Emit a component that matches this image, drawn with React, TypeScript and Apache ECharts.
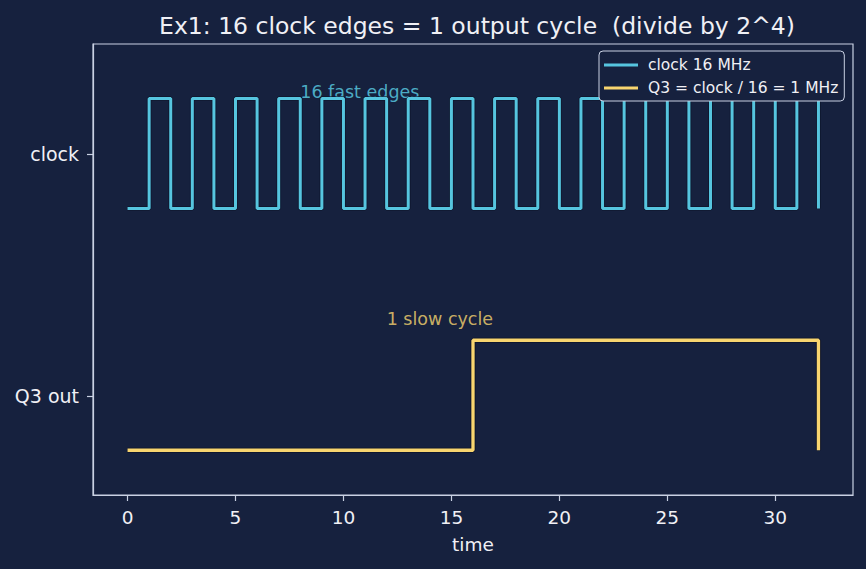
import React, { useEffect, useRef } from "react";
import * as echarts from "echarts";

const clockTimes = [0, 1, 2, 3, 4, 5, 6, 7, 8, 9, 10, 11, 12, 13, 14, 15, 16, 17, 18, 19, 20, 21, 22, 23, 24, 25, 26, 27, 28, 29, 30, 31, 32];
const clockLevels = [0, 1, 0, 1, 0, 1, 0, 1, 0, 1, 0, 1, 0, 1, 0, 1, 0, 1, 0, 1, 0, 1, 0, 1, 0, 1, 0, 1, 0, 1, 0, 1, 0];
const q3Times = [0, 16, 32];
const q3Levels = [0, 1, 0];

const clockLow = 0.775;
const clockHigh = 1.23;
const q3Low = -0.225;
const q3High = 0.23;

const yTickValues = [0, 1];
const yTickLabels = ["Q3 out", "clock"];
const xTickValues = [0, 5, 10, 15, 20, 25, 30];

const clockName = "clock 16 MHz";
const q3Name = "Q3 = clock / 16 = 1 MHz";
const clockNote = { x: 8, y: 1.22, text: "16 fast edges" };
const q3Note = { x: 12, y: 0.28, text: "1 slow cycle" };

const BG = "#16213e";
const CLOCK = "#56c5df";
const Q3 = "#f8d56f";
const FG = "#f0f0f5";
const SPINE = "#c9d1e3";
const FONT = "DejaVu Sans";

export default function App() {
  const ref = useRef<HTMLDivElement>(null);
  useEffect(() => {
    if (!ref.current) return;
    const chart = echarts.init(ref.current, undefined, { renderer: "svg" });
    const clockData = clockTimes.map((t, i) => [t, clockLevels[i] ? clockHigh : clockLow]);
    const q3Data = q3Times.map((t, i) => [t, q3Levels[i] ? q3High : q3Low]);
    chart.setOption({
      animation: false,
      backgroundColor: BG,
      title: {
        text: "Ex1: 16 clock edges = 1 output cycle  (divide by 2^4)",
        left: 472,
        top: 9,
        textAlign: "center",
        textStyle: { color: FG, fontSize: 23.5, fontWeight: "normal", fontFamily: FONT },
      },
      legend: {
        orient: "vertical",
        left: 599,
        top: 51,
        padding: [5, 6, 4, 5],
        itemGap: 5,
        itemWidth: 34,
        itemHeight: 3,
        icon: "rect",
        backgroundColor: BG,
        borderColor: SPINE,
        borderWidth: 1,
        borderRadius: 4,
        data: [clockName, q3Name],
        textStyle: { color: FG, fontSize: 15.5, lineHeight: 18, fontFamily: FONT, padding: [0, 0, 0, 5] },
      },
      grid: {
        left: 93,
        top: 44,
        width: 760,
        height: 451,
        show: true,
        borderColor: SPINE,
        borderWidth: 1.2,
        backgroundColor: BG,
      },
      xAxis: {
        type: "value",
        min: -1.6,
        max: 33.6,
        name: "time",
        nameLocation: "middle",
        nameGap: 40,
        nameTextStyle: { color: FG, fontSize: 18.5, fontFamily: FONT },
        axisLine: { show: true, onZero: false, lineStyle: { color: SPINE, width: 1.2 } },
        axisTick: { show: true, customValues: xTickValues, length: 6, lineStyle: { color: SPINE, width: 1.2 } },
        axisLabel: { customValues: xTickValues, color: FG, fontSize: 18.5, fontFamily: FONT, margin: 13 },
        splitLine: { show: false },
      },
      yAxis: {
        type: "value",
        min: -0.41,
        max: 1.455,
        axisLine: { show: true, onZero: false, lineStyle: { color: SPINE, width: 1.2 } },
        axisTick: { show: true, customValues: yTickValues, length: 6, lineStyle: { color: SPINE, width: 1.2 } },
        axisLabel: {
          customValues: yTickValues,
          color: FG,
          fontSize: 19,
          fontFamily: FONT,
          margin: 14,
          formatter: (v: number) => yTickLabels[yTickValues.indexOf(Math.round(v))] ?? "",
        },
        splitLine: { show: false },
      },
      series: [
        {
          type: "scatter",
          symbolSize: 0,
          silent: true,
          z: 1,
          data: [[clockNote.x, clockNote.y]],
          label: {
            show: true,
            position: [0, 0],
            align: "left",
            verticalAlign: "bottom",
            formatter: clockNote.text,
            color: CLOCK,
            opacity: 0.85,
            fontSize: 17.5,
            fontFamily: FONT,
          },
        },
        {
          type: "scatter",
          symbolSize: 0,
          silent: true,
          z: 1,
          data: [[q3Note.x, q3Note.y]],
          label: {
            show: true,
            position: [0, 0],
            align: "left",
            verticalAlign: "bottom",
            formatter: q3Note.text,
            color: Q3,
            fontSize: 17.5,
            fontFamily: FONT,
          },
        },
        {
          type: "line",
          step: "end",
          symbol: "none",
          silent: true,
          z: 2,
          data: clockData,
          lineStyle: { color: "#0c1226", width: 4.8, opacity: 0.6 },
        },
        {
          type: "line",
          step: "end",
          symbol: "none",
          silent: true,
          z: 2,
          data: q3Data,
          lineStyle: { color: "#0c1226", width: 5.2, opacity: 0.8 },
        },
        {
          name: clockName,
          type: "line",
          step: "end",
          symbol: "none",
          z: 3,
          data: clockData,
          itemStyle: { color: CLOCK },
          lineStyle: { color: CLOCK, width: 3 },
        },
        {
          name: q3Name,
          type: "line",
          step: "end",
          symbol: "none",
          z: 3,
          data: q3Data,
          itemStyle: { color: Q3 },
          lineStyle: { color: Q3, width: 3.3 },
        },
      ],
    });
    return () => chart.dispose();
  }, []);
  return (
    <div
      ref={ref}
      style={{ position: "fixed", left: 0, top: 0, width: 866, height: 569 }}
    />
  );
}
